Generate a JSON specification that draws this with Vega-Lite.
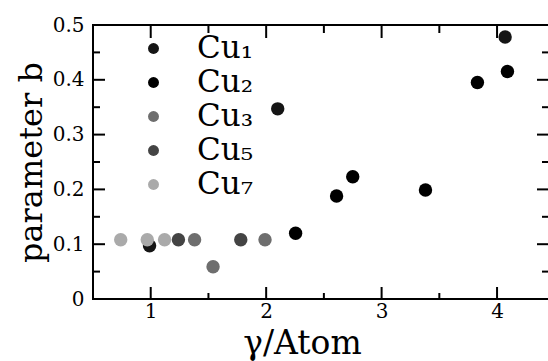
{
  "$schema": "https://vega.github.io/schema/vega-lite/v6.json",
  "width": 456,
  "height": 274,
  "autosize": {"type": "none"},
  "padding": {"left": 93, "top": 25, "right": 0, "bottom": 62},
  "background": "white",
  "config": {
    "view": {"stroke": "black", "strokeWidth": 2},
    "axis": {
      "domain": false,
      "ticks": false,
      "grid": false,
      "labelFont": "DejaVu Serif",
      "titleFont": "DejaVu Serif",
      "labelColor": "black",
      "titleColor": "black",
      "titleFontWeight": "normal"
    }
  },
  "datasets": {
    "pts": [
      {"x": 0.99, "y": 0.097, "s": "Cu₁"},
      {"x": 2.10, "y": 0.347, "s": "Cu₁"},
      {"x": 4.07, "y": 0.478, "s": "Cu₁"},
      {"x": 2.255, "y": 0.12, "s": "Cu₂"},
      {"x": 2.61, "y": 0.188, "s": "Cu₂"},
      {"x": 2.75, "y": 0.223, "s": "Cu₂"},
      {"x": 3.38, "y": 0.199, "s": "Cu₂"},
      {"x": 3.83, "y": 0.395, "s": "Cu₂"},
      {"x": 4.09, "y": 0.415, "s": "Cu₂"},
      {"x": 1.38, "y": 0.108, "s": "Cu₃"},
      {"x": 1.54, "y": 0.059, "s": "Cu₃"},
      {"x": 1.99, "y": 0.108, "s": "Cu₃"},
      {"x": 1.24, "y": 0.108, "s": "Cu₅"},
      {"x": 1.78, "y": 0.108, "s": "Cu₅"},
      {"x": 0.74, "y": 0.108, "s": "Cu₇"},
      {"x": 0.97, "y": 0.108, "s": "Cu₇"},
      {"x": 1.12, "y": 0.108, "s": "Cu₇"}
    ],
    "xmajor": [{"v": 1}, {"v": 2}, {"v": 3}, {"v": 4}],
    "xminor": [{"v": 1.5}, {"v": 2.5}, {"v": 3.5}],
    "ymajor": [{"v": 0.1}, {"v": 0.2}, {"v": 0.3}, {"v": 0.4}],
    "yminor": [{"v": 0.05}, {"v": 0.15}, {"v": 0.25}, {"v": 0.35}, {"v": 0.45}]
  },
  "layer": [
    {
      "data": {"name": "xmajor"},
      "mark": {"type": "tick", "orient": "vertical", "size": 24, "thickness": 2, "color": "black", "opacity": 1, "clip": true},
      "encoding": {
        "x": {"field": "v", "type": "quantitative"},
        "y": {"datum": 0, "type": "quantitative"}
      }
    },
    {
      "data": {"name": "xmajor"},
      "mark": {"type": "tick", "orient": "vertical", "size": 26, "thickness": 2, "color": "black", "opacity": 1, "clip": true},
      "encoding": {
        "x": {"field": "v", "type": "quantitative"},
        "y": {"datum": 0.5, "type": "quantitative"}
      }
    },
    {
      "data": {"name": "xminor"},
      "mark": {"type": "tick", "orient": "vertical", "size": 12, "thickness": 2, "color": "black", "opacity": 1, "clip": true},
      "encoding": {
        "x": {"field": "v", "type": "quantitative"},
        "y": {"datum": 0, "type": "quantitative"}
      }
    },
    {
      "data": {"name": "xminor"},
      "mark": {"type": "tick", "orient": "vertical", "size": 16, "thickness": 2, "color": "black", "opacity": 1, "clip": true},
      "encoding": {
        "x": {"field": "v", "type": "quantitative"},
        "y": {"datum": 0.5, "type": "quantitative"}
      }
    },
    {
      "data": {"name": "ymajor"},
      "mark": {"type": "tick", "orient": "horizontal", "size": 24, "thickness": 2, "color": "black", "opacity": 1, "clip": true},
      "encoding": {
        "y": {"field": "v", "type": "quantitative"},
        "x": {"datum": 0.5, "type": "quantitative"}
      }
    },
    {
      "data": {"name": "ymajor"},
      "mark": {"type": "tick", "orient": "horizontal", "size": 24, "thickness": 2, "color": "black", "opacity": 1, "clip": true},
      "encoding": {
        "y": {"field": "v", "type": "quantitative"},
        "x": {"datum": 4.45, "type": "quantitative"}
      }
    },
    {
      "data": {"name": "yminor"},
      "mark": {"type": "tick", "orient": "horizontal", "size": 14, "thickness": 2, "color": "black", "opacity": 1, "clip": true},
      "encoding": {
        "y": {"field": "v", "type": "quantitative"},
        "x": {"datum": 0.5, "type": "quantitative"}
      }
    },
    {
      "data": {"name": "yminor"},
      "mark": {"type": "tick", "orient": "horizontal", "size": 14, "thickness": 2, "color": "black", "opacity": 1, "clip": true},
      "encoding": {
        "y": {"field": "v", "type": "quantitative"},
        "x": {"datum": 4.45, "type": "quantitative"}
      }
    },
    {
      "data": {"name": "pts"},
      "mark": {"type": "point", "filled": true, "size": 180, "opacity": 1},
      "encoding": {
        "x": {
          "field": "x", "type": "quantitative",
          "scale": {"domain": [0.5, 4.45], "nice": false, "zero": false},
          "axis": {"orient": "bottom", "values": [1, 2, 3, 4], "labelPadding": 2, "labelFontSize": 20, "format": "~g", "title": "γ/Atom", "titleFontSize": 33, "titlePadding": 6, "titleX": 209}
        },
        "y": {
          "field": "y", "type": "quantitative",
          "scale": {"domain": [0, 0.5], "nice": false, "zero": false},
          "axis": {"orient": "left", "values": [0, 0.1, 0.2, 0.3, 0.4, 0.5], "labelPadding": 9, "labelFontSize": 20, "format": "~g", "title": "parameter b", "titleFontSize": 32, "titlePadding": 4}
        },
        "color": {
          "field": "s", "type": "nominal",
          "scale": {"domain": ["Cu₁", "Cu₂", "Cu₃", "Cu₅", "Cu₇"], "range": ["#151515", "#000000", "#6e6e6e", "#444444", "#aaaaaa"]},
          "legend": {"orient": "none", "legendX": 45, "legendY": 8, "title": null, "symbolType": "circle", "symbolSize": 120, "labelFont": "DejaVu Serif", "labelFontSize": 31, "labelColor": "black", "labelOffset": 28, "rowPadding": 2}
        }
      }
    }
  ]
}
